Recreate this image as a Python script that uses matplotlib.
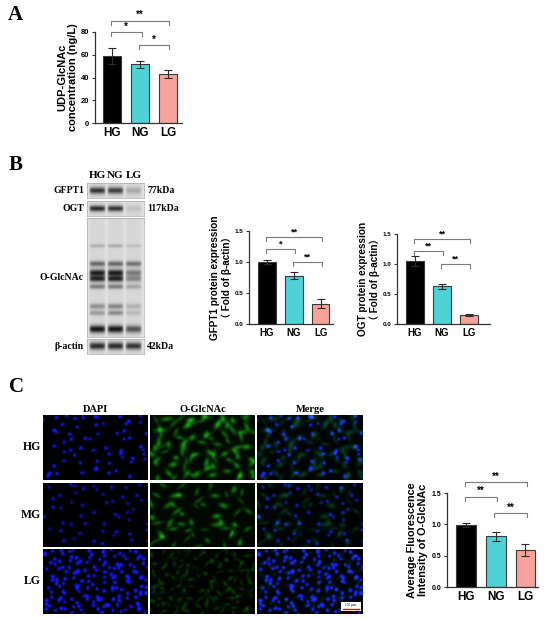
import numpy as np
import matplotlib
matplotlib.use('Agg')
import matplotlib.pyplot as plt
from matplotlib.patches import Rectangle

plt.rcParams['font.family'] = ['Liberation Sans', 'Noto Sans CJK SC', 'DejaVu Sans']

# ---------------- data ----------------
groups = ['HG', 'NG', 'LG']
bar_colors = ['#000000', '#4fd2d6', '#f7a39c']

udp_values = [59.0, 51.5, 43.5]
udp_errors = [7.0, 3.0, 3.5]
udp_sig = [(0, 1, 80.0, '*'), (1, 2, 68.5, '*'), (0, 2, 90.0, '**')]

gfpt1_values = [1.00, 0.78, 0.33]
gfpt1_errors = [0.04, 0.06, 0.07]
gfpt1_sig = [(0, 1, 1.21, '*'), (1, 2, 0.995, '**'), (0, 2, 1.41, '**')]

ogt_values = [1.05, 0.63, 0.15]
ogt_errors = [0.08, 0.04, 0.015]
ogt_sig = [(0, 1, 1.22, '**'), (1, 2, 1.00, '**'), (0, 2, 1.41, '**')]

fluor_values = [0.99, 0.81, 0.59]
fluor_errors = [0.03, 0.07, 0.10]
fluor_sig = [(0, 1, 1.44, '**'), (1, 2, 1.18, '**'), (0, 2, 1.675, '**')]

# western blot band intensities per lane (HG, NG, LG)
blot_lanes = ['HG', 'NG', 'LG']
gfpt1_band = [0.80, 0.75, 0.22]
ogt_band = [0.85, 0.80, 0.10]
actin_band = [0.85, 0.85, 0.80]
# O-GlcNAc bands: (relative position, thickness, intensities per lane)
oglc_bands = [
    (0.24, 0.010, [0.20, 0.22, 0.12]),
    (0.39, 0.016, [0.55, 0.55, 0.50]),
    (0.465, 0.020, [0.90, 0.90, 0.45]),
    (0.515, 0.018, [0.85, 0.85, 0.40]),
    (0.58, 0.014, [0.45, 0.45, 0.25]),
    (0.745, 0.016, [0.35, 0.40, 0.18]),
    (0.80, 0.014, [0.30, 0.38, 0.15]),
    (0.935, 0.022, [0.95, 0.95, 0.65]),
]
blot_labels = ['GFPT1', 'OGT', 'O-GlcNAc', 'β-actin']
blot_kda = ['77kDa', '117kDa', '', '42kDa']

# immunofluorescence: rows, columns, nuclei counts and signal levels
if_rows = ['HG', 'MG', 'LG']
if_cols = ['DAPI', 'O-GlcNAc', 'Merge']
if_nuclei_count = [60, 50, 155]
if_dapi_level = [0.9, 0.7, 1.0]
if_green_count = [80, 50, 120]
if_green_level = [0.62, 0.58, 0.28]

W, H = 550, 619
fig = plt.figure(figsize=(W / 100, H / 100), dpi=100)


def rect(x0, y0, x1, y1):
    return [x0 / W, 1 - y1 / H, (x1 - x0) / W, (y1 - y0) / H]


def bar_panel(box, values, errors, sig, ylim, yticks, yticklabels, xlim,
              ylabel, ylab_fs, tick_fs, xlab_fs, width, star_fs, labelpad):
    ax = fig.add_axes(rect(*box))
    x = np.arange(len(values))
    ax.bar(x, values, width=width, color=bar_colors, edgecolor='#3a3a3a',
           linewidth=0.8, zorder=2)
    ax.errorbar(x, values, yerr=errors, fmt='none', ecolor='#2a2a2a',
                elinewidth=0.8, capsize=3, capthick=0.8, zorder=3)
    ax.set_xlim(*xlim)
    ax.set_ylim(*ylim)
    ax.set_yticks(yticks)
    ax.set_yticklabels(yticklabels, fontsize=tick_fs, fontweight='bold')
    ax.set_xticks(x)
    ax.set_xticklabels(groups, fontsize=xlab_fs, fontweight='bold')
    ax.tick_params(axis='x', length=0, pad=3)
    ax.tick_params(axis='y', length=2.5, width=0.8, pad=1.5, color='#333333')
    for s in ['top', 'right']:
        ax.spines[s].set_visible(False)
    for s in ['left', 'bottom']:
        ax.spines[s].set_linewidth(0.9)
        ax.spines[s].set_color('#333333')
    ax.set_ylabel(ylabel, fontsize=ylab_fs, fontweight='bold',
                  linespacing=1.1, labelpad=labelpad)
    span = ylim[1] - ylim[0]
    for i, j, y, lab in sig:
        x0, x1 = i - 0.05, j + 0.05
        d = 0.045 * span
        ax.plot([x0, x0, x1, x1], [y - d, y, y, y - d], color='#7a7a7a',
                lw=0.8, clip_on=False, zorder=4)
        ax.text((x0 + x1) / 2, y + 0.005 * span, lab, ha='center', va='bottom',
                fontsize=star_fs, fontweight='bold', clip_on=False)
    return ax


# ---------------- panel labels ----------------
for lab, (px, py) in zip(['A', 'B', 'C'], [(8, 20), (9, 170), (9, 392)]):
    fig.text(px / W, 1 - py / H, lab, fontsize=15, fontweight='bold',
             family='Liberation Serif', ha='left', va='baseline')

# ---------------- panel A ----------------
bar_panel((95, 32, 182, 123), udp_values, udp_errors, udp_sig,
          (0, 80), [0, 20, 40, 60, 80], ['0', '20', '40', '60', '80'],
          (-0.62, 2.5),
          'UDP-GlcNAc\nconcentration (ng/L)', 8, 5.5, 8.5, 0.66, 7, 2)

# ---------------- panel B charts ----------------
bar_panel((249, 231, 333, 324), gfpt1_values, gfpt1_errors, gfpt1_sig,
          (0, 1.5), [0, 0.5, 1.0, 1.5], ['0.0', '0.5', '1.0', '1.5'],
          (-0.67, 2.45),
          'GFPT1 protein expression\n（ Fold of β-actin）', 7.2, 4.5, 7, 0.64,
          6.5, 2)
bar_panel((397, 234, 490, 324), ogt_values, ogt_errors, ogt_sig,
          (0, 1.5), [0, 0.5, 1.0, 1.5], ['0.0', '0.5', '1.0', '1.5'],
          (-0.67, 2.78),
          'OGT protein expression\n（ Fold of β-actin）', 7.2, 4.5, 7, 0.64,
          6.5, 2)

# ---------------- panel C chart ----------------
bar_panel((447, 493, 538, 587), fluor_values, fluor_errors, fluor_sig,
          (0, 1.5), [0, 0.5, 1.0, 1.5], ['0.0', '0.5', '1.0', '1.5'],
          (-0.65, 2.43),
          'Average Fluorescence\nIntensity of O-GlcNAc', 7.8, 5, 8.5, 0.66,
          7, 3)

# ---------------- western blots ----------------
lane_x = np.array([0.18, 0.5, 0.82])


def blot_image(h_px, bands, bg=0.88, w_px=120):
    yy = np.linspace(0, 1, h_px)[:, None]
    xx = np.linspace(0, 1, w_px)[None, :]
    dark = np.zeros((h_px, w_px))
    for pos, thick, levels in bands:
        for lx, lv in zip(lane_x, levels):
            prof_x = np.clip(1 - ((xx - lx) / 0.15) ** 6, 0, 1)
            prof_y = np.exp(-0.5 * ((yy - pos) / thick) ** 2)
            dark += lv * prof_x * prof_y
    # faint lane smear
    for lx in lane_x:
        dark += 0.05 * np.clip(1 - ((xx - lx) / 0.15) ** 6, 0, 1)
    dark = np.clip(dark, 0, 1)
    return bg - dark * (bg - 0.08)


blot_boxes = [(87, 183, 144, 198), (87, 201, 144, 216), (87, 218, 144, 337),
              (87, 339, 144, 354)]
blot_specs = [
    [(0.5, 0.16, gfpt1_band)],
    [(0.5, 0.14, ogt_band)],
    oglc_bands,
    [(0.5, 0.16, actin_band)],
]
for box, spec, lab, kda in zip(blot_boxes, blot_specs, blot_labels, blot_kda):
    ax = fig.add_axes(rect(*box))
    h_px = int((box[3] - box[1]) * 4)
    img = blot_image(h_px, spec)
    ax.imshow(img, cmap='gray', vmin=0, vmax=1, aspect='auto',
              interpolation='bilinear')
    ax.set_xticks([])
    ax.set_yticks([])
    for s in ax.spines.values():
        s.set_linewidth(0.5)
        s.set_color('#aaaaaa')
    yc = 1 - ((box[1] + box[3]) / 2) / H
    fig.text((box[0] - 3) / W, yc, lab, ha='right', va='center',
             fontsize=7, fontweight='bold', family='Liberation Serif')
    if kda:
        fig.text((box[2] + 3) / W, yc, kda, ha='left', va='center',
                 fontsize=7, fontweight='bold', family='Liberation Serif')

for lane, lx in zip(blot_lanes, lane_x):
    fig.text((87 + lx * 57) / W, 1 - 178 / H, lane, ha='center',
             va='baseline', fontsize=8, fontweight='bold',
             family='Liberation Serif')

# ---------------- immunofluorescence grid ----------------
col_x = [(43, 148), (150, 255), (257, 363)]
row_y = [(415, 480), (483, 547), (549, 614)]
IW, IH = 210, 130
gy, gx = np.mgrid[0:IH, 0:IW]


def texture_points(n, a, b):
    """Evenly spread positions (R2 low-discrepancy sequence + small hash jitter)."""
    i = np.arange(1, n + 1)
    px = (0.5 + i * 0.7548776662) % 1.0
    py = (0.5 + i * 0.5698402910) % 1.0
    jx = (np.sin(i * 12.9898 + a) * 43758.5453) % 1.0
    jy = (np.sin(i * 78.233 + b) * 12543.1234) % 1.0
    sp = 1.0 / np.sqrt(n)
    x = ((px + (jx - 0.5) * 0.9 * sp) % 1.0) * IW
    y = ((py + (jy - 0.5) * 0.9 * sp) % 1.0) * IH
    return x, y, jx, jy


def blobs(xs, ys, sx, sy, ang, amp):
    out = np.zeros((IH, IW))
    for x0, y0, a, b, t, m in zip(xs, ys, sx, sy, ang, amp):
        c, s = np.cos(t), np.sin(t)
        dx, dy = gx - x0, gy - y0
        u = (c * dx + s * dy) / a
        v = (-s * dx + c * dy) / b
        out += m * np.exp(-0.5 * (u * u + v * v))
    return out


for r in range(3):
    nx, ny, jx, jy = texture_points(if_nuclei_count[r], r * 1.7, r * 2.3)
    dapi = blobs(nx, ny, 2.2 + 0.7 * jx, 2.0 + 0.6 * jy, jx * 3.1,
                 if_dapi_level[r] * (0.75 + 0.25 * jy))
    dapi = np.clip(1.3 * dapi, 0, 1)
    gxs, gys, kx, ky = texture_points(if_green_count[r], r * 3.1 + 5,
                                      r * 1.3 + 7)
    gsize = 1.0 if r < 2 else 0.7
    green = blobs(gxs, gys, gsize * (4.0 + 4.0 * kx), gsize * (2.2 + 1.5 * ky),
                  kx * 6.28, if_green_level[r] * (0.4 + 0.6 * ky))
    green = np.clip(green + 0.06 * if_green_level[r], 0, 0.85)
    imgs = [
        np.dstack([0.08 * dapi, 0.10 * dapi, dapi]),
        np.dstack([0.12 * green, 0.82 * green, 0.12 * green]),
        np.dstack([0.08 * dapi + 0.05 * green, 0.15 * dapi + 0.35 * green,
                   np.clip(0.95 * dapi + 0.2 * green, 0, 1)]),
    ]
    for c in range(3):
        x0, x1 = col_x[c]
        y0, y1 = row_y[r]
        ax = fig.add_axes(rect(x0, y0, x1, y1))
        ax.imshow(np.clip(imgs[c], 0, 1), aspect='auto',
                  interpolation='bilinear')
        ax.set_xticks([])
        ax.set_yticks([])
        for s in ax.spines.values():
            s.set_visible(False)
        if r == 2 and c == 2:
            ax.add_patch(Rectangle((0.79, 0.05), 0.19, 0.13,
                                   transform=ax.transAxes, facecolor='white',
                                   edgecolor='none'))
            ax.plot([0.81, 0.96], [0.08, 0.08], transform=ax.transAxes,
                    color='red', lw=1.0)
            ax.text(0.885, 0.105, '100 μm', transform=ax.transAxes,
                    fontsize=2.5, ha='center', va='bottom',
                    family='Liberation Serif')
    yc = 1 - ((row_y[r][0] + row_y[r][1]) / 2) / H
    fig.text(41 / W, yc, if_rows[r], ha='right', va='center', fontsize=8.5,
             fontweight='bold', family='Liberation Serif')

for c in range(3):
    fig.text(((col_x[c][0] + col_x[c][1]) / 2) / W, 1 - 412 / H, if_cols[c],
             ha='center', va='baseline', fontsize=7.5, fontweight='bold',
             family='Liberation Serif')

fig.savefig('out.png', dpi=100, facecolor='white')
